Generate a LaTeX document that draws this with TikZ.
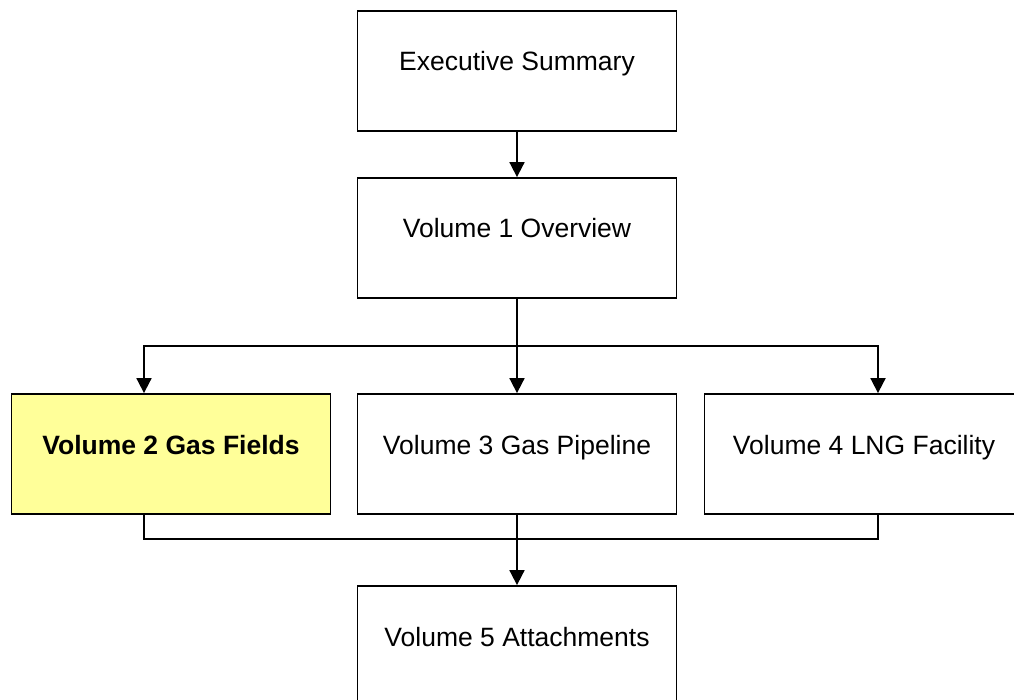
\documentclass[tikz,border=0pt]{standalone}
\usepackage{fontspec}
\setmainfont{Liberation Sans}
\usetikzlibrary{arrows.meta}
\definecolor{paleyellow}{HTML}{FFFF99}
\tikzset{
  box/.style={draw=black, line width=1.8pt, fill=white, minimum width=319pt, minimum height=120pt,
    inner sep=0pt, text height=19pt, text depth=19pt, font=\fontsize{26.5}{30}\selectfont},
  hl/.style={fill=paleyellow, font=\fontsize{26.5}{30}\selectfont\bfseries},
  conn/.style={draw=black, line width=1.8pt},
  arr/.style={conn, -{Triangle[length=15pt,width=15pt]}}
}
\begin{document}
\begin{tikzpicture}[x=1pt,y=-1pt]
\useasboundingbox (0,0) rectangle (1014,700);
\clip (0,0) rectangle (1014,700);
\node[box] (exec) at (517,71) {Executive Summary};
\node[box] (vol1) at (517,238) {Volume 1 Overview};
\node[box,hl] (vol2) at (171,454) {Volume 2 Gas Fields};
\node[box] (vol3) at (517,454) {Volume 3 Gas Pipeline};
\node[box] (vol4) at (864,454) {Volume 4 LNG Facility};
\node[box] (vol5) at (517,646) {Volume 5 Attachments};
\coordinate (b2) at (144,346);
\coordinate (b4) at (878,346);
\coordinate (c2) at (144,539);
\draw[arr] (exec.south) -- (vol1.north);
\draw[arr] (vol1.south) -- (vol3.north);
\draw[arr] (vol1.south) |- (b2) -- (b2 |- vol2.north);
\draw[arr] (vol1.south) |- (b4) -- (b4 |- vol4.north);
\draw[conn] (b2 |- vol2.south) -- (c2) -| (b4 |- vol4.south);
\draw[arr] (vol3.south) -- (vol5.north);
\end{tikzpicture}
\end{document}
